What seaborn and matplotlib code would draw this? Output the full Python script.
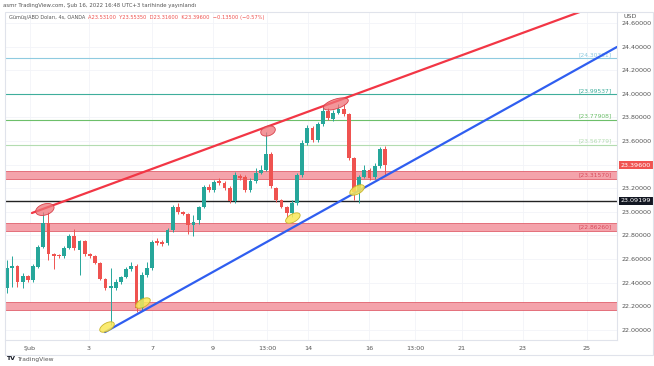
import numpy as np
import pandas as pd
import seaborn as sns
import matplotlib.pyplot as plt

# 4h candles, Gümüş/ABD Doları (OANDA)
opens = [22.354, 22.524, 22.541, 22.405, 22.456, 22.422, 22.532, 22.702, 22.905, 22.642,
         22.634, 22.625, 22.693, 22.795, 22.676, 22.752, 22.642, 22.625, 22.566, 22.431,
         22.354, 22.354, 22.405, 22.448, 22.515, 22.541, 22.185, 22.464, 22.524, 22.752,
         22.744, 22.736, 22.846, 23.041, 22.998, 22.981, 22.888, 22.931, 23.041, 23.210,
         23.185, 23.261, 23.244, 23.202, 23.091, 23.303, 23.295, 23.185, 23.261, 23.329,
         23.354, 23.490, 23.202, 23.100, 23.041, 22.990, 23.075, 23.312, 23.583, 23.710,
         23.609, 23.744, 23.854, 23.786, 23.837, 23.871, 23.829, 23.456, 23.168, 23.295,
         23.354, 23.295, 23.388, 23.531]
highs = [22.591, 22.625, 22.549, 22.481, 22.464, 22.558, 22.719, 22.998, 22.998, 22.651,
         22.642, 22.710, 22.812, 22.854, 22.761, 22.761, 22.651, 22.634, 22.575, 22.439,
         22.524, 22.430, 22.460, 22.530, 22.575, 22.558, 22.490, 22.575, 22.761, 22.778,
         22.760, 22.863, 23.058, 23.075, 23.010, 22.990, 22.973, 23.050, 23.227, 23.236,
         23.270, 23.286, 23.261, 23.219, 23.337, 23.320, 23.312, 23.286, 23.371, 23.400,
         23.676, 23.507, 23.210, 23.110, 23.049, 23.100, 23.329, 23.609, 23.736, 23.727,
         23.761, 23.888, 23.880, 23.863, 23.914, 23.914, 23.837, 23.464, 23.312, 23.397,
         23.371, 23.414, 23.549, 23.554]
lows = [22.312, 22.363, 22.363, 22.354, 22.405, 22.405, 22.524, 22.693, 22.591, 22.515,
        22.608, 22.608, 22.685, 22.676, 22.464, 22.625, 22.608, 22.558, 22.422, 22.337,
        22.041, 22.340, 22.390, 22.440, 22.500, 22.151, 22.160, 22.448, 22.507, 22.719,
        22.710, 22.719, 22.829, 22.981, 22.970, 22.812, 22.795, 22.900, 23.032, 23.168,
        23.168, 23.227, 23.185, 23.075, 23.075, 23.270, 23.168, 23.168, 23.244, 23.320,
        23.346, 23.202, 23.083, 23.030, 22.947, 22.956, 23.058, 23.295, 23.566, 23.592,
        23.592, 23.727, 23.778, 23.769, 23.829, 23.812, 23.439, 23.100, 23.075, 23.286,
        23.270, 23.278, 23.371, 23.316]
closes = [22.524, 22.541, 22.405, 22.456, 22.422, 22.541, 22.702, 22.905, 22.642, 22.625,
          22.625, 22.693, 22.795, 22.693, 22.752, 22.642, 22.625, 22.566, 22.431, 22.354,
          22.371, 22.405, 22.448, 22.515, 22.541, 22.185, 22.464, 22.524, 22.744, 22.736,
          22.727, 22.846, 23.041, 22.998, 22.981, 22.888, 22.914, 23.041, 23.210, 23.185,
          23.253, 23.244, 23.202, 23.091, 23.312, 23.286, 23.185, 23.261, 23.329, 23.354,
          23.490, 23.219, 23.100, 23.041, 22.990, 23.075, 23.312, 23.583, 23.710, 23.609,
          23.744, 23.854, 23.795, 23.837, 23.871, 23.829, 23.456, 23.168, 23.295, 23.354,
          23.286, 23.388, 23.532, 23.396]

time_labels = ['Şub', '3', '7', '9', '13:00', '14', '16', '13:00', '21', '23', '25']
time_pos = [4.4, 15.8, 28.0, 39.8, 50.2, 58.1, 69.9, 78.8, 87.8, 99.6, 112.0]
price_ticks = [22.0, 22.2, 22.4, 22.6, 22.8, 23.0, 23.2, 23.4, 23.6, 23.8, 24.0, 24.2, 24.4, 24.6]

# horizontal levels drawn on the chart
level_values = [24.30331, 23.99537, 23.77908, 23.56779]
level_colors = ['#8fcbe0', '#3fae9c', '#6dbf6a', '#b3dcb0']
zone_low = [23.278, 22.837, 22.170]
zone_high = [23.346, 22.905, 22.240]
zone_labels = ['[23.31570]', '[22.86260]', '']
black_level = 23.09199
last_price = 23.396

# trend lines (candle index, price)
red_x = [4.8, 125.0]
red_y = [22.990, 24.925]
blue_x = [18.9, 117.8]
blue_y = [21.981, 24.397]

# marked swing points
yellow_x = [19.3, 26.25, 55.2, 67.6]
yellow_y = [22.024, 22.227, 22.947, 23.185]
redmark_x = [7.3, 50.4, 63.5]
redmark_y = [23.020, 23.685, 23.914]
redmark_w = [9.5, 7.5, 13]
redmark_h = [5.5, 4.8, 4.8]

df = pd.DataFrame({'o': opens, 'h': highs, 'l': lows, 'c': closes})
df['i'] = np.arange(len(df))
df['up'] = df.c >= df.o
up_col, dn_col = '#26a69a', '#ef5350'
cols = np.where(df.up, up_col, dn_col)

sns.set_style('white')
fig = plt.figure(figsize=(6.54, 3.66), dpi=100)
ax = fig.add_axes([5 / 654, 1 - 340 / 366, 612 / 654, 328 / 366])

xmin, xmax = -0.4, 117.8
ymin, ymax = 21.914, 24.693
ax.set_xlim(xmin, xmax)
ax.set_ylim(ymin, ymax)

# faint grid
for p in price_ticks:
    ax.axhline(p, color='#f2f4f8', lw=0.6, zorder=0)
for t in time_pos:
    ax.axvline(t, color='#f2f4f8', lw=0.6, zorder=0)

for v, c in zip(level_values, level_colors):
    ax.axhline(v, color=c, lw=0.8, zorder=1)
    ax.text(116.8, v + 0.01, f'[{v:.5f}]', color=c, fontsize=4.3,
            ha='right', va='bottom', zorder=5)

for lo, hi, lab in zip(zone_low, zone_high, zone_labels):
    ax.axhspan(lo, hi, facecolor='#f4a3ab', edgecolor='#e0606c', lw=0.6, zorder=1)
    if lab:
        ax.text(116.8, (lo + hi) / 2, lab, color='#d9495a', fontsize=4.3,
                ha='right', va='center', zorder=5)

ax.axhline(black_level, color='#222222', lw=1.0, zorder=2)

# candles
ax.vlines(df.i, df.l, df.h, colors=cols, lw=0.7, zorder=3)
body = np.maximum((df.c - df.o).abs(), 0.007)
ax.bar(df.i, body, bottom=np.minimum(df.o, df.c), width=0.74, color=cols,
       linewidth=0, zorder=4)

# trend lines
sns.lineplot(x=red_x, y=red_y, color='#f23645', lw=1.6, ax=ax, zorder=6)
sns.lineplot(x=blue_x, y=blue_y, color='#2f5ef0', lw=1.6, ax=ax, zorder=6)

# ellipses drawn in pixel space, then mapped to data units
sx = 612 / (xmax - xmin)
sy = 328 / (ymax - ymin)
t = np.linspace(0, 2 * np.pi, 60)


def blob(cx, cy, a, b, ang, face, edge):
    th = np.radians(ang)
    px = a * np.cos(t) * np.cos(th) - b * np.sin(t) * np.sin(th)
    py = a * np.cos(t) * np.sin(th) + b * np.sin(t) * np.cos(th)
    ax.fill(cx + px / sx, cy + py / sy, facecolor=face, edgecolor=edge,
            lw=0.6, zorder=7)


for x, y in zip(yellow_x, yellow_y):
    blob(x, y, 8, 4, 29, (0.98, 0.91, 0.35, 0.85), '#c8b42a')
for x, y, w, h in zip(redmark_x, redmark_y, redmark_w, redmark_h):
    blob(x, y, w, h, 18, (0.94, 0.45, 0.47, 0.75), '#d9404a')

# axes cosmetics
for s in ['left', 'top']:
    ax.spines[s].set_visible(False)
for s in ['right', 'bottom']:
    ax.spines[s].set_color('#e0e3eb')
    ax.spines[s].set_linewidth(0.8)
ax.yaxis.tick_right()
ax.set_yticks(price_ticks)
ax.set_yticklabels([f'{p:.5f}' for p in price_ticks], fontsize=4.6, color='#555555')
ax.tick_params(axis='y', length=0, pad=3)
ax.set_xticks(time_pos)
ax.set_xticklabels(time_labels, fontsize=4.6, color='#555555')
ax.tick_params(axis='x', length=0, pad=4)

box = dict(boxstyle='square,pad=0.25', lw=0)
ax.text(1.006, (last_price - ymin) / (ymax - ymin), f'{last_price:.5f}', transform=ax.transAxes,
        fontsize=4.6, color='white', va='center', ha='left',
        bbox=dict(box, facecolor='#f05350'))
ax.text(1.006, (black_level - ymin) / (ymax - ymin), f'{black_level:.5f}', transform=ax.transAxes,
        fontsize=4.6, color='white', va='center', ha='left',
        bbox=dict(box, facecolor='#131722'))

fig.text(624 / 654, 1 - 17 / 366, 'USD', fontsize=4.6, color='#555555', va='center')

# outer frame
fig.add_artist(plt.Rectangle((5 / 654, 1 - 355 / 366), 648 / 654, 343 / 366,
                             fill=False, edgecolor='#e0e3eb', lw=0.8))

fig.text(3 / 654, 1 - 5 / 366,
         'asmr TradingView.com, Şub 16, 2022 16:48 UTC+3 tarihinde yayınlandı',
         fontsize=3.9, color='#555555', va='center')
fig.text(9 / 654, 1 - 17 / 366, 'Gümüş/ABD Doları, 4s, OANDA', fontsize=3.6,
         color='#555555', va='center')
fig.text(88 / 654, 1 - 17 / 366,
         'A23.53100  Y23.55350  D23.31600  K23.39600  −0.13500 (−0.57%)',
         fontsize=3.7, color='#ef5350', va='center')
fig.text(6 / 654, 1 - 359 / 366, 'TV', fontsize=4.5, color='#131722',
         weight='bold', va='center')
fig.text(17 / 654, 1 - 359 / 366, 'TradingView', fontsize=4.3, color='#555555', va='center')

fig.savefig('out.png', dpi=100)
